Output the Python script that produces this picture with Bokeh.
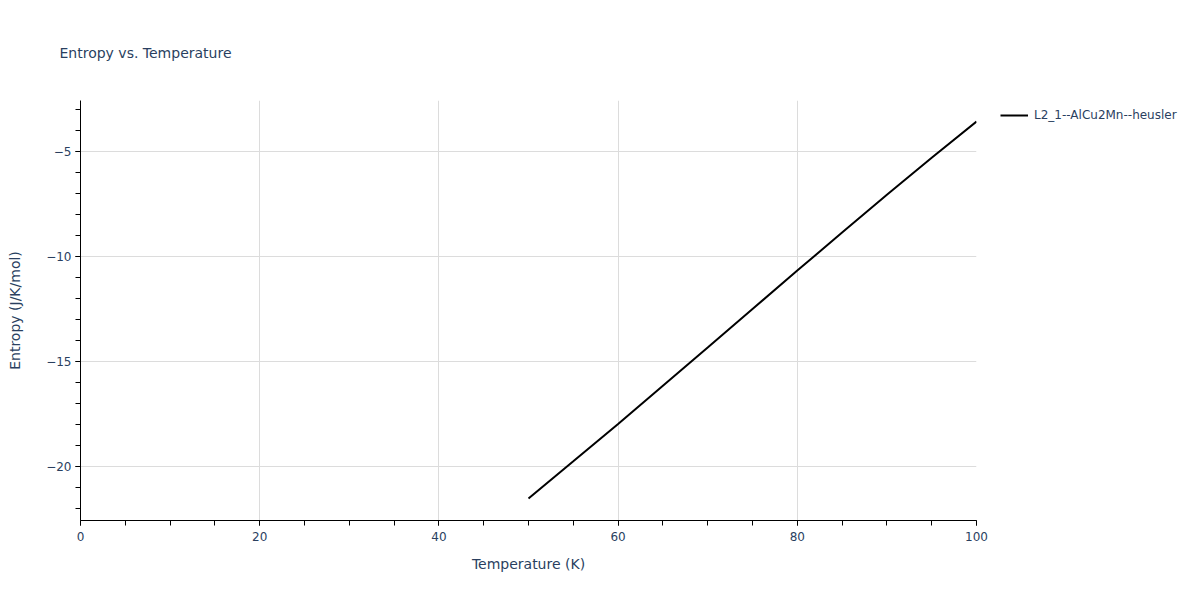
from bokeh.plotting import figure
from bokeh.models import Range1d, SingleIntervalTicker, CustomJSTickFormatter, Legend, LegendItem
from bokeh.embed import file_html
from bokeh.resources import INLINE

# temperature (K) and entropy (J/K/mol)
temperature = [50, 55, 60, 65, 70, 75, 80, 85, 90, 95, 100]
entropy = [-21.52, -19.75, -17.97, -16.15, -14.33, -12.5, -10.67, -8.86, -7.06, -5.3, -3.57]
series_name = "L2_1--AlCu2Mn--heusler"

FONT = "DejaVu Sans"
TXT = "#2a3f5f"

p = figure(width=1184, height=584, frame_width=896, frame_height=420,
           output_backend="svg", toolbar_location=None,
           x_range=Range1d(0, 100), y_range=Range1d(-22.57, -2.57),
           min_border_left=80, min_border_top=100, min_border_right=208, min_border_bottom=64)

p.title.text = "Entropy vs. Temperature"
p.title.text_font = FONT
p.title.text_font_size = "14px"
p.title.text_font_style = "normal"
p.title.text_color = TXT
p.title.offset = -21
p.title.standoff = 80

p.outline_line_color = None
p.background_fill_color = "white"
p.border_fill_color = "white"

p.xaxis.ticker = SingleIntervalTicker(interval=20, num_minor_ticks=4)
p.yaxis.ticker = SingleIntervalTicker(interval=5, num_minor_ticks=5)
p.yaxis.formatter = CustomJSTickFormatter(code="return tick.toString().replace('-', '\u2212')")

for ax in (p.xaxis, p.yaxis):
    ax.axis_line_color = "black"
    ax.axis_line_width = 1
    ax.major_tick_line_color = "black"
    ax.minor_tick_line_color = "black"
    ax.major_tick_out = 5
    ax.major_tick_in = 0
    ax.minor_tick_out = 5
    ax.minor_tick_in = 0
    ax.major_label_text_font = FONT
    ax.major_label_text_font_size = "12px"
    ax.major_label_text_color = TXT
    ax.major_label_standoff = 4
    ax.axis_label_text_font = FONT
    ax.axis_label_text_font_size = "14px"
    ax.axis_label_text_font_style = "normal"
    ax.axis_label_text_color = TXT

p.xaxis.major_label_standoff = 6
p.xaxis.axis_label = "Temperature (K)"
p.yaxis.axis_label = "Entropy (J/K/mol)"
p.xaxis.axis_label_standoff = 12
p.yaxis.axis_label_standoff = 20

p.xgrid.grid_line_color = "#dcdcdc"
p.ygrid.grid_line_color = "#dcdcdc"

r = p.line(temperature, entropy, line_color="black", line_width=2)

legend = Legend(items=[LegendItem(label=series_name, renderers=[r])],
                location=(24, 395), margin=0, padding=0, spacing=0,
                glyph_width=28, glyph_height=20, label_standoff=6,
                label_text_font=FONT, label_text_font_size="12px", label_text_color=TXT,
                border_line_color=None, background_fill_alpha=0)
p.add_layout(legend, "right")

open("out.html", "w").write(file_html(p, INLINE))
